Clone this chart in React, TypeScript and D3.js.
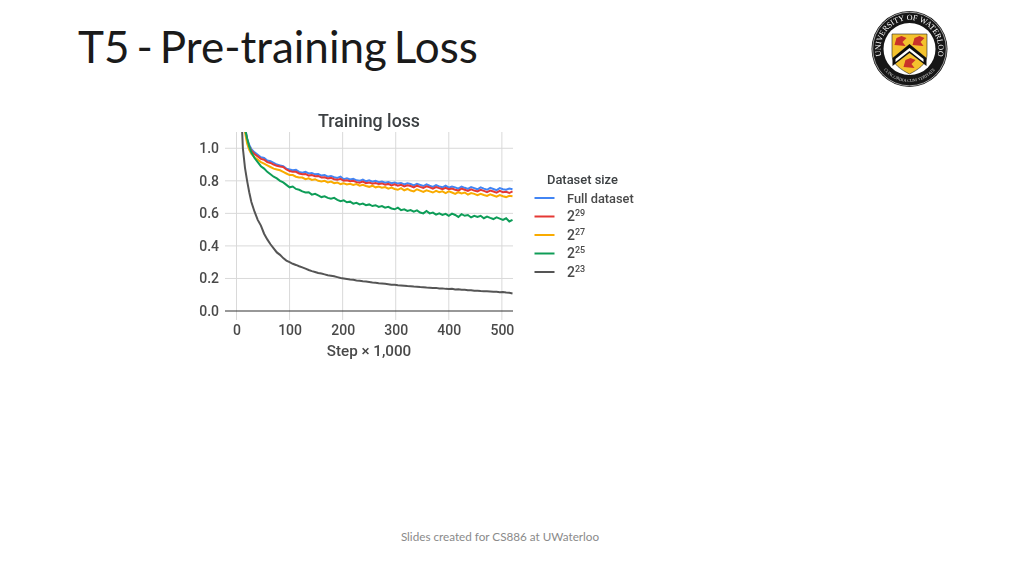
import React, { useEffect, useRef } from 'react';
import * as d3 from 'd3';

const steps = [
  8, 12, 16, 20, 24, 28,
  34, 40, 46, 52, 58, 64, 70, 76, 82, 88,
  94, 100, 106, 112, 118, 124, 130, 136, 142, 148,
  154, 160, 166, 172, 178, 184, 190, 196, 202, 208,
  214, 220, 226, 232, 238, 244, 250, 256, 262, 268,
  274, 280, 286, 292, 298, 304, 310, 316, 322, 328,
  334, 340, 346, 352, 358, 364, 370, 376, 382, 388,
  394, 400, 406, 412, 418, 424, 430, 436, 442, 448,
  454, 460, 466, 472, 478, 484, 490, 496, 502, 508,
  514, 520,
];

const fullDataset = [
  1.6, 1.3, 1.13, 1.06, 1.02, 0.995,
  0.975, 0.96, 0.945, 0.94, 0.925, 0.92, 0.91, 0.9, 0.895, 0.89,
  0.875, 0.87, 0.865, 0.868, 0.855, 0.85, 0.855, 0.845, 0.848, 0.84,
  0.842, 0.832, 0.835, 0.825, 0.83, 0.822, 0.818, 0.826, 0.81, 0.815,
  0.808, 0.812, 0.803, 0.8, 0.808, 0.797, 0.803, 0.795, 0.8, 0.792,
  0.796, 0.788, 0.793, 0.785, 0.79, 0.783, 0.787, 0.778, 0.785, 0.78,
  0.772, 0.782, 0.775, 0.768, 0.778, 0.77, 0.763, 0.773, 0.766, 0.76,
  0.77, 0.758, 0.765, 0.76, 0.752, 0.765, 0.757, 0.75, 0.762, 0.755,
  0.748, 0.76, 0.752, 0.745, 0.757, 0.75, 0.743, 0.755, 0.748, 0.745,
  0.752, 0.748,
];
const size29 = [
  1.58, 1.28, 1.12, 1.05, 1.01, 0.985,
  0.965, 0.95, 0.935, 0.93, 0.915, 0.91, 0.9, 0.892, 0.888, 0.885,
  0.87, 0.86, 0.855, 0.855, 0.845, 0.84, 0.842, 0.832, 0.835, 0.828,
  0.83, 0.82, 0.822, 0.815, 0.818, 0.81, 0.806, 0.812, 0.8, 0.803,
  0.797, 0.8, 0.792, 0.788, 0.795, 0.785, 0.79, 0.782, 0.787, 0.78,
  0.784, 0.776, 0.781, 0.772, 0.778, 0.77, 0.775, 0.765, 0.772, 0.768,
  0.76, 0.77, 0.763, 0.757, 0.766, 0.76, 0.752, 0.762, 0.755, 0.748,
  0.757, 0.748, 0.753, 0.745, 0.74, 0.752, 0.745, 0.738, 0.748, 0.74,
  0.735, 0.745, 0.738, 0.73, 0.74, 0.734, 0.727, 0.738, 0.73, 0.733,
  0.725, 0.735,
];
const size27 = [
  1.55, 1.26, 1.1, 1.03, 0.99, 0.965,
  0.945, 0.93, 0.915, 0.905, 0.895, 0.885, 0.875, 0.87, 0.865, 0.855,
  0.845, 0.835, 0.835, 0.825, 0.82, 0.82, 0.81, 0.815, 0.805, 0.81,
  0.8, 0.796, 0.8, 0.79, 0.795, 0.785, 0.79, 0.78, 0.785, 0.778,
  0.782, 0.775, 0.78, 0.77, 0.775, 0.768, 0.763, 0.77, 0.76, 0.765,
  0.758, 0.762, 0.752, 0.758, 0.75, 0.745, 0.755, 0.742, 0.75, 0.74,
  0.735, 0.748, 0.74, 0.732, 0.742, 0.735, 0.728, 0.738, 0.73, 0.735,
  0.725, 0.735, 0.728, 0.72, 0.73, 0.723, 0.728, 0.715, 0.725, 0.72,
  0.712, 0.72, 0.713, 0.707, 0.717, 0.71, 0.703, 0.712, 0.705, 0.7,
  0.708, 0.705,
];
const size25 = [
  1.5, 1.25, 1.12, 1.06, 1.01, 0.975,
  0.94, 0.915, 0.89, 0.875, 0.855, 0.84, 0.825, 0.815, 0.8, 0.79,
  0.775, 0.76, 0.765, 0.75, 0.745, 0.735, 0.728, 0.73, 0.715, 0.72,
  0.71, 0.7, 0.705, 0.695, 0.69, 0.695, 0.683, 0.675, 0.68, 0.668,
  0.672, 0.66, 0.665, 0.655, 0.66, 0.65, 0.655, 0.645, 0.65, 0.64,
  0.645, 0.635, 0.64, 0.63, 0.625, 0.635, 0.62, 0.625, 0.615, 0.62,
  0.61, 0.618, 0.605, 0.6, 0.615, 0.6, 0.605, 0.592, 0.6, 0.59,
  0.597, 0.585, 0.598, 0.59, 0.578, 0.595, 0.585, 0.59, 0.575, 0.585,
  0.578, 0.585, 0.57, 0.58, 0.572, 0.565, 0.575, 0.568, 0.56, 0.57,
  0.55, 0.56,
];
const size23 = [
  1.3, 1.0, 0.88, 0.8, 0.73, 0.67,
  0.61, 0.56, 0.525, 0.475, 0.44, 0.41, 0.385, 0.36, 0.345, 0.325,
  0.31, 0.3, 0.29, 0.283, 0.275, 0.268, 0.26, 0.252, 0.245, 0.24,
  0.234, 0.23, 0.225, 0.22, 0.217, 0.213, 0.208, 0.203, 0.2, 0.197,
  0.194, 0.192, 0.188, 0.186, 0.183, 0.181, 0.178, 0.175, 0.174, 0.171,
  0.169, 0.167, 0.165, 0.162, 0.161, 0.158, 0.157, 0.155, 0.153, 0.152,
  0.15, 0.149, 0.147, 0.146, 0.144, 0.143, 0.141, 0.142, 0.138, 0.139,
  0.136, 0.135, 0.136, 0.132, 0.133, 0.13, 0.13, 0.127, 0.128, 0.125,
  0.125, 0.123, 0.122, 0.121, 0.12, 0.119, 0.118, 0.116, 0.117, 0.114,
  0.112, 0.108,
];

const seriesValues = [fullDataset, size29, size27, size25, size23];
const seriesColors = ['#4285f4', '#e53935', '#f9ab00', '#0f9d58', '#555555'];
const legendNames = ['Full dataset', '2', '2', '2', '2'];
const legendPowers = ['', '29', '27', '25', '23'];
const xTicks = [0, 100, 200, 300, 400, 500];
const yTicks = [0, 0.2, 0.4, 0.6, 0.8, 1.0];

const App = () => {
  const svgRef = useRef<SVGSVGElement>(null);

  useEffect(() => {
    const svg = d3.select(svgRef.current);
    svg.selectAll('*').remove();

    const xScale = d3.scaleLinear().domain([0, 520]).range([236.5, 512.5]);
    const yScale = d3.scaleLinear().domain([0, 1.1]).range([311, 132]);

    const defs = svg.append('defs');
    defs.append('clipPath').attr('id', 'plot-clip')
      .append('rect')
      .attr('x', 225).attr('y', 132).attr('width', 288).attr('height', 179);
    defs.append('filter').attr('id', 'soft')
      .append('feGaussianBlur').attr('stdDeviation', 0.4);

    svg.append('text')
      .attr('x', 78).attr('y', 63)
      .attr('font-family', 'Lato').attr('font-size', 44).attr('word-spacing', -4.3).attr('fill', '#1a1a1a')
      .text('T5 - Pre-training Loss');

    svg.append('text')
      .attr('x', 500).attr('y', 541)
      .attr('text-anchor', 'middle')
      .attr('font-family', 'Lato').attr('font-size', 11.7).attr('fill', '#8a8a8a')
      .text('Slides created for CS886 at UWaterloo');

    const chart = svg.append('g').attr('filter', 'url(#soft)').attr('font-family', 'Roboto');

    chart.append('text')
      .attr('x', 369).attr('y', 126.5)
      .attr('text-anchor', 'middle')
      .attr('font-size', 17.8).attr('font-weight', 500).attr('fill', '#3c4043')
      .text('Training loss');

    // grid
    chart.append('g').selectAll('line').data(xTicks).enter().append('line')
      .attr('x1', (d) => xScale(d)).attr('x2', (d) => xScale(d))
      .attr('y1', 132).attr('y2', 320)
      .attr('stroke', '#d9d9d9').attr('stroke-width', 1);
    chart.append('g').selectAll('line').data(yTicks.slice(1)).enter().append('line')
      .attr('x1', 225).attr('x2', 513)
      .attr('y1', (d) => yScale(d)).attr('y2', (d) => yScale(d))
      .attr('stroke', '#d9d9d9').attr('stroke-width', 1);

    const line = d3.line<number>()
      .x((d, i) => xScale(steps[i]))
      .y((d) => yScale(d));

    const lines = chart.append('g').attr('clip-path', 'url(#plot-clip)');
    seriesValues.forEach((values, i) => {
      lines.append('path')
        .datum(values)
        .attr('fill', 'none')
        .attr('stroke', seriesColors[i])
        .attr('stroke-width', 2)
        .attr('d', line);
    });

    chart.append('line')
      .attr('x1', 225).attr('x2', 513)
      .attr('y1', yScale(0)).attr('y2', yScale(0))
      .attr('stroke', '#333').attr('stroke-width', 1.2);

    const xAxis = d3.axisBottom(xScale).tickValues(xTicks).tickSize(0).tickPadding(14);
    const xGroup = chart.append('g').attr('transform', 'translate(0, 311)').call(xAxis);
    const yAxis = d3.axisLeft(yScale).tickValues(yTicks).tickSize(0).tickPadding(0)
      .tickFormat(d3.format('.1f') as any);
    const yGroup = chart.append('g').attr('transform', 'translate(219, 0)').call(yAxis);
    [xGroup, yGroup].forEach((g) => {
      g.select('.domain').remove();
      g.selectAll('text')
        .attr('font-family', 'Roboto').attr('font-size', 14).attr('font-weight', 500).attr('fill', '#4a4a4a');
    });

    chart.append('text')
      .attr('x', 369).attr('y', 355.5)
      .attr('text-anchor', 'middle')
      .attr('font-size', 15.2).attr('font-weight', 500).attr('fill', '#4a4a4a')
      .text('Step × 1,000');

    // legend
    chart.append('text')
      .attr('x', 547).attr('y', 183.5)
      .attr('font-size', 12.9).attr('font-weight', 500).attr('fill', '#3c4043')
      .text('Dataset size');

    const legendY = d3.scalePoint<number>().domain(d3.range(5)).range([198, 272]);
    legendNames.forEach((name, i) => {
      const y = legendY(i) as number;
      chart.append('line')
        .attr('x1', 534.5).attr('x2', 554.5).attr('y1', y).attr('y2', y)
        .attr('stroke', seriesColors[i]).attr('stroke-width', 2);
      const label = chart.append('text')
        .attr('x', 567).attr('y', y + 4.5)
        .attr('font-size', i === 0 ? 12.8 : 14).attr('font-weight', 500).attr('fill', '#4a4a4a')
        .text(name);
      if (legendPowers[i]) {
        label.append('tspan')
          .attr('dy', -5).attr('font-size', 9)
          .text(legendPowers[i]);
      }
    });

    // university crest
    const crest = svg.append('g').attr('transform', 'translate(909.5, 49)').attr('filter', 'url(#soft)');
    crest.append('circle').attr('r', 38).attr('fill', '#141414');
    crest.append('circle').attr('r', 36.8).attr('fill', 'none').attr('stroke', '#fff').attr('stroke-width', 0.6);
    crest.append('circle').attr('r', 26).attr('fill', '#fff');

    const shield = 'M-17.5,-15 L17.5,-15 L17.5,6 C17.5,15 8,21 0,25 C-8,21 -17.5,15 -17.5,6 Z';
    crest.append('path').attr('d', shield).attr('fill', '#f4c22e').attr('stroke', '#222').attr('stroke-width', 0.6);
    crest.append('path').attr('d', 'M-17,9 L0,-5 L17,9 L17,17 L0,4 L-17,17 Z').attr('fill', '#111');
    crest.append('path').attr('d', 'M-14,10 L0,-1 L14,10 L14,13 L0,2 L-14,13 Z').attr('fill', '#fff');
    [[-9, -8], [9, -8], [0, 14]].forEach(([cx, cy]) => {
      crest.append('path')
        .attr('d', `M${cx - 6},${cy + 4} L${cx - 4},${cy - 3} L${cx + 1},${cy - 5} L${cx + 6},${cy - 3} L${cx + 2},${cy + 1} L${cx + 5},${cy + 5} Z`)
        .attr('fill', '#c9302c');
    });

    defs.append('path').attr('id', 'crest-top').attr('d', 'M-23.76,16.6 A29,29 0 1 1 23.76,16.6');
    defs.append('path').attr('id', 'crest-bottom').attr('d', 'M-31,11.3 A33,33 0 0 0 31,11.3');
    crest.append('text')
      .attr('font-family', 'Liberation Serif').attr('font-size', 8).attr('fill', '#fff')
      .append('textPath').attr('href', '#crest-top').attr('startOffset', '50%').attr('text-anchor', 'middle')
      .text('UNIVERSITY OF WATERLOO');
    crest.append('text')
      .attr('font-family', 'Liberation Serif').attr('font-size', 4.4).attr('fill', '#ddd')
      .append('textPath').attr('href', '#crest-bottom').attr('startOffset', '50%').attr('text-anchor', 'middle')
      .text('CONCORDIA CUM VERITATE');
  }, []);

  return (
    <svg
      ref={svgRef}
      width={1024}
      height={576}
      style={{ position: 'absolute', left: 0, top: 0, background: '#fff' }}
    />
  );
};

export default App;
